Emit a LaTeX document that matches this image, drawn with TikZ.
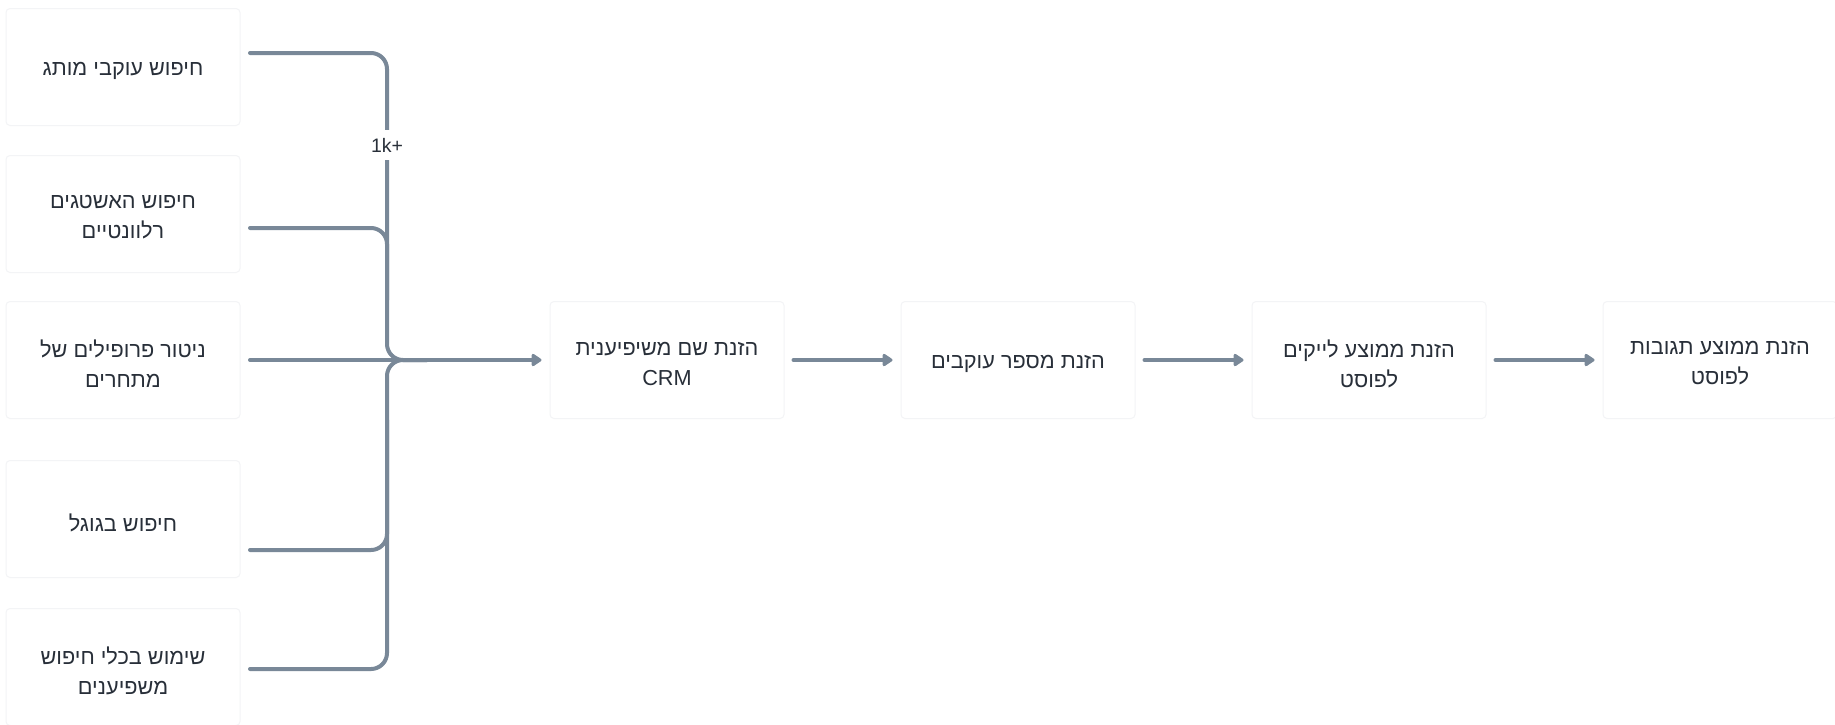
\documentclass[tikz,border=0pt]{standalone}
\usepackage{fontspec}
\setmainfont{Liberation Sans}
\newfontfamily\hebfont[Script=Hebrew]{Liberation Sans}
\TeXXeTstate=1
\usetikzlibrary{arrows.meta}
\definecolor{linegray}{RGB}{121,136,152}
\definecolor{inkgray}{RGB}{40,47,57}
\definecolor{boxedge}{RGB}{243,244,246}
\newcommand{\heb}[1]{\beginR #1\endR}
% a card: empty frame plus its caption, set a little below centre
\newcommand{\cardat}[3]{%
  \node[card] (#1) at (#2) {};
  \node[cardtext] (#1-t) at ([yshift=-3.5pt]#1.center) {#3};}

\begin{document}
\begin{tikzpicture}[x=1pt,y=-1pt,
  card/.style={draw=boxedge, line width=1pt, fill=white, rounded corners=4pt,
    minimum width=234pt, minimum height=117pt, inner sep=0pt},
  cardtext/.style={align=center, text=inkgray, inner sep=0pt,
    font=\hebfont\fontsize{21.7}{30}\selectfont},
  link/.style={draw=linegray, line width=4pt, line cap=round},
  arr/.style={link, -{Triangle[length=11pt,width=14pt,round]}},
  tag/.style={fill=white, text=inkgray, font=\fontsize{19.5}{22}\selectfont,
    inner xsep=4pt, inner ysep=8pt}
]
\fill[white] (0,0) rectangle (1835,724);
\useasboundingbox (0,0) rectangle (1835,724);

% sources on the left
\cardat{a1}{123,67}{\heb{חיפוש עוקבי מותג}}
\cardat{a2}{123,214}{\heb{חיפוש האשטגים}\\\heb{רלוונטיים}}
\cardat{a3}{123,360}{\heb{ניטור פרופילים של}\\\heb{מתחרים}}
\cardat{a4}{123,519}{\heb{חיפוש בגוגל}}
\cardat{a5}{123,667}{\heb{שימוש בכלי חיפוש}\\\heb{משפיענים}}

% processing chain
\cardat{c1}{667,360}{\heb{הזנת שם משיפיענית}\\CRM}
\cardat{c2}{1018,360}{\heb{הזנת מספר עוקבים}}
\cardat{c3}{1369,360}{\heb{הזנת ממוצע לייקים}\\\heb{לפוסט}}
\cardat{c4}{1720,360}{\heb{הזנת ממוצע תגובות}\\\heb{לפוסט}}

% connector anchors
\coordinate (s1) at (250,53);
\coordinate (s2) at (250,228);
\coordinate (s3) at (250,360);
\coordinate (s4) at (250,550);
\coordinate (s5) at (250,669);
\coordinate (j) at (387,360);
\coordinate (ju) at (387,300);
\coordinate (jd) at (387,420);

% merging bracket
\draw[link, rounded corners=16pt] (s1) -| (j) -- ++(40,0);
\draw[link, rounded corners=16pt] (s5) -| (j) -- ++(40,0);
\draw[link, rounded corners=16pt] (s2) -| (ju);
\draw[link, rounded corners=16pt] (s4) -| (jd);
\node[tag] (k) at (387,145) {1k+};

% arrows
\draw[arr, shorten >=8pt] (s3) -- (c1.west);
\draw[arr, shorten <=9pt, shorten >=8pt] (c1) -- (c2);
\draw[arr, shorten <=9pt, shorten >=8pt] (c2) -- (c3);
\draw[arr, shorten <=9pt, shorten >=8pt] (c3) -- (c4);
\end{tikzpicture}
\end{document}
